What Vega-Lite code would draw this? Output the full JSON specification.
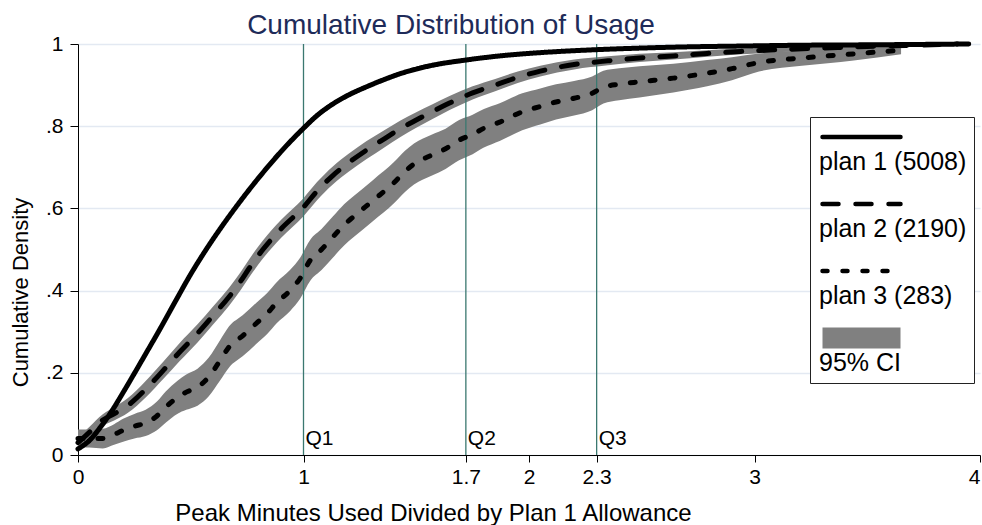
{
  "$schema": "https://vega.github.io/schema/vega-lite/v6.json",
  "width": 902,
  "height": 411,
  "autosize": {"type": "none"},
  "padding": {"left": 78, "top": 44, "right": 2, "bottom": 70},
  "title": {"text": "Cumulative Distribution of Usage", "fontSize": 28, "font": "Liberation Sans", "fontWeight": "normal", "color": "#1e2b59", "anchor": "middle", "dx": -78, "offset": -7},
  "config": {"view": {"stroke": null}, "font": "Liberation Sans"},
  "datasets": {
    "curves": [
      {"series": "plan 1 (5008)", "x": 0, "y": 0.015, "lo": 0.011, "hi": 0.019},
      {"series": "plan 1 (5008)", "x": 0.05, "y": 0.035, "lo": 0.031, "hi": 0.039},
      {"series": "plan 1 (5008)", "x": 0.1, "y": 0.068, "lo": 0.063, "hi": 0.073},
      {"series": "plan 1 (5008)", "x": 0.15, "y": 0.107, "lo": 0.101, "hi": 0.113},
      {"series": "plan 1 (5008)", "x": 0.2, "y": 0.152, "lo": 0.146, "hi": 0.158},
      {"series": "plan 1 (5008)", "x": 0.26, "y": 0.208, "lo": 0.201, "hi": 0.215},
      {"series": "plan 1 (5008)", "x": 0.3, "y": 0.246, "lo": 0.239, "hi": 0.253},
      {"series": "plan 1 (5008)", "x": 0.36, "y": 0.303, "lo": 0.296, "hi": 0.31},
      {"series": "plan 1 (5008)", "x": 0.43, "y": 0.372, "lo": 0.365, "hi": 0.379},
      {"series": "plan 1 (5008)", "x": 0.5, "y": 0.44, "lo": 0.433, "hi": 0.447},
      {"series": "plan 1 (5008)", "x": 0.56, "y": 0.493, "lo": 0.486, "hi": 0.5},
      {"series": "plan 1 (5008)", "x": 0.63, "y": 0.55, "lo": 0.543, "hi": 0.557},
      {"series": "plan 1 (5008)", "x": 0.7, "y": 0.603, "lo": 0.596, "hi": 0.61},
      {"series": "plan 1 (5008)", "x": 0.78, "y": 0.66, "lo": 0.653, "hi": 0.667},
      {"series": "plan 1 (5008)", "x": 0.84, "y": 0.7, "lo": 0.693, "hi": 0.707},
      {"series": "plan 1 (5008)", "x": 0.9, "y": 0.738, "lo": 0.731, "hi": 0.745},
      {"series": "plan 1 (5008)", "x": 1.0, "y": 0.795, "lo": 0.788, "hi": 0.802},
      {"series": "plan 1 (5008)", "x": 1.06, "y": 0.826, "lo": 0.819, "hi": 0.833},
      {"series": "plan 1 (5008)", "x": 1.13, "y": 0.854, "lo": 0.848, "hi": 0.86},
      {"series": "plan 1 (5008)", "x": 1.2, "y": 0.876, "lo": 0.87, "hi": 0.882},
      {"series": "plan 1 (5008)", "x": 1.28, "y": 0.896, "lo": 0.891, "hi": 0.901},
      {"series": "plan 1 (5008)", "x": 1.36, "y": 0.914, "lo": 0.909, "hi": 0.919},
      {"series": "plan 1 (5008)", "x": 1.43, "y": 0.928, "lo": 0.924, "hi": 0.932},
      {"series": "plan 1 (5008)", "x": 1.5, "y": 0.939, "lo": 0.935, "hi": 0.943},
      {"series": "plan 1 (5008)", "x": 1.57, "y": 0.948, "lo": 0.944, "hi": 0.952},
      {"series": "plan 1 (5008)", "x": 1.72, "y": 0.961, "lo": 0.958, "hi": 0.964},
      {"series": "plan 1 (5008)", "x": 1.87, "y": 0.971, "lo": 0.968, "hi": 0.974},
      {"series": "plan 1 (5008)", "x": 2.05, "y": 0.979, "lo": 0.977, "hi": 0.981},
      {"series": "plan 1 (5008)", "x": 2.25, "y": 0.985, "lo": 0.983, "hi": 0.987},
      {"series": "plan 1 (5008)", "x": 2.49, "y": 0.99, "lo": 0.988, "hi": 0.992},
      {"series": "plan 1 (5008)", "x": 2.7, "y": 0.993, "lo": 0.991, "hi": 0.995},
      {"series": "plan 1 (5008)", "x": 2.94, "y": 0.995, "lo": 0.993, "hi": 0.997},
      {"series": "plan 1 (5008)", "x": 3.2, "y": 0.997, "lo": 0.996, "hi": 0.998},
      {"series": "plan 1 (5008)", "x": 3.5, "y": 0.998, "lo": 0.997, "hi": 0.999},
      {"series": "plan 1 (5008)", "x": 3.95, "y": 1.0, "lo": 0.999, "hi": 1.0},
      {"series": "plan 2 (2190)", "x": 0, "y": 0.03, "lo": 0.018, "hi": 0.042},
      {"series": "plan 2 (2190)", "x": 0.05, "y": 0.055, "lo": 0.042, "hi": 0.068},
      {"series": "plan 2 (2190)", "x": 0.11, "y": 0.085, "lo": 0.071, "hi": 0.099},
      {"series": "plan 2 (2190)", "x": 0.16, "y": 0.1, "lo": 0.084, "hi": 0.116},
      {"series": "plan 2 (2190)", "x": 0.22, "y": 0.12, "lo": 0.102, "hi": 0.138},
      {"series": "plan 2 (2190)", "x": 0.3, "y": 0.16, "lo": 0.14, "hi": 0.18},
      {"series": "plan 2 (2190)", "x": 0.38, "y": 0.207, "lo": 0.186, "hi": 0.228},
      {"series": "plan 2 (2190)", "x": 0.45, "y": 0.25, "lo": 0.228, "hi": 0.272},
      {"series": "plan 2 (2190)", "x": 0.53, "y": 0.296, "lo": 0.274, "hi": 0.318},
      {"series": "plan 2 (2190)", "x": 0.6, "y": 0.34, "lo": 0.318, "hi": 0.362},
      {"series": "plan 2 (2190)", "x": 0.67, "y": 0.385, "lo": 0.363, "hi": 0.407},
      {"series": "plan 2 (2190)", "x": 0.72, "y": 0.422, "lo": 0.4, "hi": 0.444},
      {"series": "plan 2 (2190)", "x": 0.76, "y": 0.455, "lo": 0.433, "hi": 0.477},
      {"series": "plan 2 (2190)", "x": 0.82, "y": 0.5, "lo": 0.478, "hi": 0.522},
      {"series": "plan 2 (2190)", "x": 0.9, "y": 0.55, "lo": 0.528, "hi": 0.572},
      {"series": "plan 2 (2190)", "x": 1.0, "y": 0.603, "lo": 0.581, "hi": 0.625},
      {"series": "plan 2 (2190)", "x": 1.06, "y": 0.642, "lo": 0.62, "hi": 0.664},
      {"series": "plan 2 (2190)", "x": 1.13, "y": 0.68, "lo": 0.658, "hi": 0.702},
      {"series": "plan 2 (2190)", "x": 1.2, "y": 0.711, "lo": 0.689, "hi": 0.733},
      {"series": "plan 2 (2190)", "x": 1.28, "y": 0.742, "lo": 0.72, "hi": 0.764},
      {"series": "plan 2 (2190)", "x": 1.36, "y": 0.77, "lo": 0.749, "hi": 0.791},
      {"series": "plan 2 (2190)", "x": 1.43, "y": 0.794, "lo": 0.774, "hi": 0.814},
      {"series": "plan 2 (2190)", "x": 1.5, "y": 0.815, "lo": 0.796, "hi": 0.834},
      {"series": "plan 2 (2190)", "x": 1.57, "y": 0.835, "lo": 0.817, "hi": 0.853},
      {"series": "plan 2 (2190)", "x": 1.65, "y": 0.857, "lo": 0.84, "hi": 0.874},
      {"series": "plan 2 (2190)", "x": 1.75, "y": 0.881, "lo": 0.865, "hi": 0.897},
      {"series": "plan 2 (2190)", "x": 1.85, "y": 0.9, "lo": 0.885, "hi": 0.915},
      {"series": "plan 2 (2190)", "x": 1.95, "y": 0.919, "lo": 0.905, "hi": 0.933},
      {"series": "plan 2 (2190)", "x": 2.05, "y": 0.934, "lo": 0.921, "hi": 0.947},
      {"series": "plan 2 (2190)", "x": 2.2, "y": 0.95, "lo": 0.938, "hi": 0.962},
      {"series": "plan 2 (2190)", "x": 2.35, "y": 0.959, "lo": 0.948, "hi": 0.97},
      {"series": "plan 2 (2190)", "x": 2.49, "y": 0.966, "lo": 0.956, "hi": 0.976},
      {"series": "plan 2 (2190)", "x": 2.64, "y": 0.971, "lo": 0.962, "hi": 0.98},
      {"series": "plan 2 (2190)", "x": 2.79, "y": 0.977, "lo": 0.969, "hi": 0.985},
      {"series": "plan 2 (2190)", "x": 2.94, "y": 0.982, "lo": 0.975, "hi": 0.989},
      {"series": "plan 2 (2190)", "x": 3.1, "y": 0.986, "lo": 0.98, "hi": 0.992},
      {"series": "plan 2 (2190)", "x": 3.3, "y": 0.99, "lo": 0.985, "hi": 0.995},
      {"series": "plan 2 (2190)", "x": 3.5, "y": 0.994, "lo": 0.99, "hi": 0.998},
      {"series": "plan 2 (2190)", "x": 3.7, "y": 0.997, "lo": 0.994, "hi": 1.0},
      {"series": "plan 2 (2190)", "x": 3.9, "y": 1.0, "lo": 0.998, "hi": 1.0},
      {"series": "plan 3 (283)", "x": 0, "y": 0.04, "lo": 0.018, "hi": 0.062},
      {"series": "plan 3 (283)", "x": 0.05, "y": 0.04, "lo": 0.018, "hi": 0.062},
      {"series": "plan 3 (283)", "x": 0.11, "y": 0.04, "lo": 0.016, "hi": 0.064},
      {"series": "plan 3 (283)", "x": 0.16, "y": 0.05, "lo": 0.025, "hi": 0.075},
      {"series": "plan 3 (283)", "x": 0.2, "y": 0.06, "lo": 0.032, "hi": 0.088},
      {"series": "plan 3 (283)", "x": 0.25, "y": 0.07, "lo": 0.04, "hi": 0.1},
      {"series": "plan 3 (283)", "x": 0.3, "y": 0.078, "lo": 0.046, "hi": 0.11},
      {"series": "plan 3 (283)", "x": 0.35, "y": 0.095, "lo": 0.06, "hi": 0.13},
      {"series": "plan 3 (283)", "x": 0.39, "y": 0.117, "lo": 0.079, "hi": 0.155},
      {"series": "plan 3 (283)", "x": 0.44, "y": 0.14, "lo": 0.1, "hi": 0.18},
      {"series": "plan 3 (283)", "x": 0.48, "y": 0.153, "lo": 0.11, "hi": 0.196},
      {"series": "plan 3 (283)", "x": 0.53, "y": 0.165, "lo": 0.12, "hi": 0.21},
      {"series": "plan 3 (283)", "x": 0.58, "y": 0.19, "lo": 0.143, "hi": 0.237},
      {"series": "plan 3 (283)", "x": 0.63, "y": 0.23, "lo": 0.181, "hi": 0.279},
      {"series": "plan 3 (283)", "x": 0.67, "y": 0.263, "lo": 0.213, "hi": 0.313},
      {"series": "plan 3 (283)", "x": 0.73, "y": 0.29, "lo": 0.24, "hi": 0.34},
      {"series": "plan 3 (283)", "x": 0.79, "y": 0.32, "lo": 0.27, "hi": 0.37},
      {"series": "plan 3 (283)", "x": 0.84, "y": 0.345, "lo": 0.295, "hi": 0.395},
      {"series": "plan 3 (283)", "x": 0.88, "y": 0.37, "lo": 0.32, "hi": 0.42},
      {"series": "plan 3 (283)", "x": 0.94, "y": 0.4, "lo": 0.35, "hi": 0.45},
      {"series": "plan 3 (283)", "x": 0.985, "y": 0.43, "lo": 0.38, "hi": 0.48},
      {"series": "plan 3 (283)", "x": 1.03, "y": 0.474, "lo": 0.424, "hi": 0.524},
      {"series": "plan 3 (283)", "x": 1.08, "y": 0.5, "lo": 0.45, "hi": 0.55},
      {"series": "plan 3 (283)", "x": 1.13, "y": 0.53, "lo": 0.48, "hi": 0.58},
      {"series": "plan 3 (283)", "x": 1.18, "y": 0.56, "lo": 0.51, "hi": 0.61},
      {"series": "plan 3 (283)", "x": 1.22, "y": 0.579, "lo": 0.529, "hi": 0.629},
      {"series": "plan 3 (283)", "x": 1.31, "y": 0.62, "lo": 0.57, "hi": 0.67},
      {"series": "plan 3 (283)", "x": 1.4, "y": 0.662, "lo": 0.612, "hi": 0.712},
      {"series": "plan 3 (283)", "x": 1.45, "y": 0.69, "lo": 0.64, "hi": 0.74},
      {"series": "plan 3 (283)", "x": 1.49, "y": 0.708, "lo": 0.658, "hi": 0.758},
      {"series": "plan 3 (283)", "x": 1.57, "y": 0.73, "lo": 0.68, "hi": 0.78},
      {"series": "plan 3 (283)", "x": 1.63, "y": 0.745, "lo": 0.696, "hi": 0.794},
      {"series": "plan 3 (283)", "x": 1.69, "y": 0.766, "lo": 0.717, "hi": 0.815},
      {"series": "plan 3 (283)", "x": 1.75, "y": 0.78, "lo": 0.732, "hi": 0.828},
      {"series": "plan 3 (283)", "x": 1.8, "y": 0.795, "lo": 0.748, "hi": 0.842},
      {"series": "plan 3 (283)", "x": 1.87, "y": 0.81, "lo": 0.764, "hi": 0.856},
      {"series": "plan 3 (283)", "x": 1.97, "y": 0.835, "lo": 0.79, "hi": 0.88},
      {"series": "plan 3 (283)", "x": 2.05, "y": 0.848, "lo": 0.804, "hi": 0.892},
      {"series": "plan 3 (283)", "x": 2.12, "y": 0.859, "lo": 0.816, "hi": 0.902},
      {"series": "plan 3 (283)", "x": 2.2, "y": 0.868, "lo": 0.826, "hi": 0.91},
      {"series": "plan 3 (283)", "x": 2.28, "y": 0.88, "lo": 0.839, "hi": 0.921},
      {"series": "plan 3 (283)", "x": 2.33, "y": 0.895, "lo": 0.855, "hi": 0.935},
      {"series": "plan 3 (283)", "x": 2.4, "y": 0.902, "lo": 0.863, "hi": 0.941},
      {"series": "plan 3 (283)", "x": 2.49, "y": 0.908, "lo": 0.87, "hi": 0.946},
      {"series": "plan 3 (283)", "x": 2.64, "y": 0.917, "lo": 0.882, "hi": 0.952},
      {"series": "plan 3 (283)", "x": 2.79, "y": 0.929, "lo": 0.897, "hi": 0.961},
      {"series": "plan 3 (283)", "x": 2.9, "y": 0.94, "lo": 0.912, "hi": 0.968},
      {"series": "plan 3 (283)", "x": 3.02, "y": 0.955, "lo": 0.933, "hi": 0.977},
      {"series": "plan 3 (283)", "x": 3.21, "y": 0.966, "lo": 0.947, "hi": 0.985},
      {"series": "plan 3 (283)", "x": 3.44, "y": 0.976, "lo": 0.96, "hi": 0.992},
      {"series": "plan 3 (283)", "x": 3.65, "y": 0.985, "lo": 0.975, "hi": 0.995}
    ],
    "quartiles": [
      {"label": "Q1", "x": 1.0},
      {"label": "Q2", "x": 1.72},
      {"label": "Q3", "x": 2.3}
    ]
  },
  "layer": [
    {
      "data": {"name": "curves"},
      "mark": {"type": "area", "color": "#808080", "opacity": 1, "interpolate": "monotone"},
      "encoding": {
        "x": {"field": "x", "type": "quantitative", "scale": {"domain": [0, 4], "nice": false, "zero": false},
          "axis": {"values": [0, 1, 1.72, 2, 2.3, 3, 4], "labelExpr": "datum.value == 1.72 ? '1.7' : format(datum.value, '~g')", "labelAlign": {"expr": "datum.value == 4 ? 'right' : 'center'"}, "grid": false, "domainColor": "black", "tickColor": "black", "tickSize": 7, "labelFontSize": 21, "labelColor": "black", "labelPadding": 4, "labelFont": "Liberation Sans", "labelFlush": false, "labelOverlap": false, "title": "Peak Minutes Used Divided by Plan 1 Allowance", "titleFontSize": 24, "titleFontWeight": "normal", "titleColor": "black", "titleFont": "Liberation Sans", "titleX": 355, "titleY": 65, "titleAlign": "center", "titleBaseline": "alphabetic"}},
        "y": {"field": "lo", "type": "quantitative", "scale": {"domain": [0, 1], "nice": false},
          "axis": {"values": [0, 0.2, 0.4, 0.6, 0.8, 1], "labelExpr": "datum.value == 0 ? '0' : datum.value == 1 ? '1' : replace(format(datum.value, '.1f'), '0.', '.')", "grid": true, "gridColor": "#e3e9f2", "gridWidth": 1.5, "domainColor": "black", "tickColor": "black", "tickSize": 8, "labelFontSize": 21, "labelColor": "black", "labelPadding": 7, "labelFont": "Liberation Sans", "labelFlush": false, "title": "Cumulative Density", "titleFontSize": 22, "titleFontWeight": "normal", "titleColor": "black", "titleFont": "Liberation Sans", "titleAngle": -90, "titleX": -58, "titleY": 248, "titleAlign": "center", "titleBaseline": "middle"}},
        "y2": {"field": "hi"},
        "detail": {"field": "series", "type": "nominal"}
      }
    },
    {
      "data": {"name": "quartiles"},
      "mark": {"type": "rule", "color": "#3b7870", "strokeWidth": 1.3},
      "encoding": {
        "x": {"field": "x", "type": "quantitative"}
      }
    },
    {
      "data": {"name": "quartiles"},
      "mark": {"type": "text", "align": "left", "baseline": "alphabetic", "dx": 2, "dy": -10, "fontSize": 21, "font": "Liberation Sans", "color": "black"},
      "encoding": {
        "x": {"field": "x", "type": "quantitative"},
        "y": {"datum": 0},
        "text": {"field": "label", "type": "nominal"}
      }
    },
    {
      "data": {"name": "curves"},
      "mark": {"type": "line", "color": "black", "strokeWidth": 5, "strokeCap": "round", "interpolate": "monotone"},
      "encoding": {
        "x": {"field": "x", "type": "quantitative"},
        "y": {"field": "y", "type": "quantitative"},
        "strokeDash": {"field": "series", "type": "nominal",
          "scale": {"domain": ["plan 1 (5008)", "plan 2 (2190)", "plan 3 (283)", "95% CI"], "range": [[1, 0], [16, 17], [5, 15], [1, 0]]},
          "legend": {
            "orient": "none", "legendX": 732, "legendY": 73, "title": null,
            "padding": 7.5, "strokeColor": "#222222", "fillColor": "white",
            "symbolSize": 100, "symbolStrokeWidth": 4.5, "symbolOffset": 31.5, "labelOffset": -55,
            "labelFontSize": 25, "labelColor": "black", "labelFont": "Liberation Sans", "labelLimit": 300,
            "rowPadding": 10,
            "encoding": {
              "symbols": {
                "shape": {"condition": {"test": "datum.value === '95% CI'", "value": "M-7.8,-2.1H7.8V2.1H-7.8Z"}, "value": "M-7.8,-2.1M-7.8,0H7.8"},
                "fill": {"condition": {"test": "datum.value === '95% CI'", "value": "#808080"}, "value": "transparent"},
                "stroke": {"condition": {"test": "datum.value === '95% CI'", "value": "transparent"}, "value": "black"},
                "strokeCap": {"value": "round"}
              },
              "labels": {"dy": {"value": 24.5}}
            }
          }
        }
      }
    }
  ]
}
